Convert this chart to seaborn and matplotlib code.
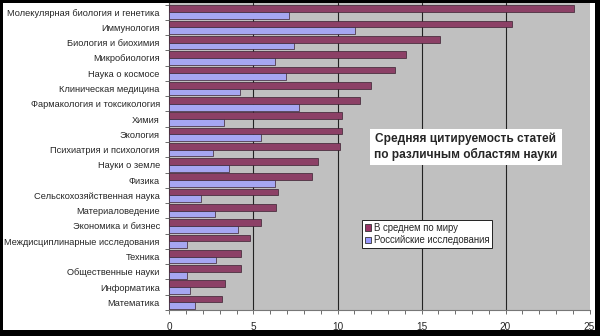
import matplotlib
matplotlib.use("Agg")
import matplotlib.pyplot as plt
from matplotlib.patches import Rectangle, Patch
import seaborn as sns
import pandas as pd
import numpy as np

categories = [
    "Молекулярная биология и генетика",
    "Иммунология",
    "Биология и биохимия",
    "Микробиология",
    "Наука о космосе",
    "Клиническая медицина",
    "Фармакология и токсикология",
    "Химия",
    "Экология",
    "Психиатрия и психология",
    "Науки о земле",
    "Физика",
    "Сельскохозяйственная наука",
    "Материаловедение",
    "Экономика и бизнес",
    "Междисциплинарные исследования",
    "Техника",
    "Общественные науки",
    "Информатика",
    "Математика",
]
world = [24.1, 20.4, 16.1, 14.1, 13.4, 12.0, 11.35, 10.26, 10.26, 10.16,
         8.81, 8.49, 6.43, 6.31, 5.46, 4.78, 4.25, 4.23, 3.33, 3.15]
russia = [7.14, 11.07, 7.40, 6.27, 6.93, 4.19, 7.68, 3.27, 5.42, 2.56,
          3.53, 6.27, 1.85, 2.68, 4.05, 1.07, 2.74, 1.07, 1.21, 1.51]
series = ["В среднем по миру", "Российские исследования"]
colors = ["#993366", "#9999FF"]
xticks = [0, 5, 10, 15, 20, 25]
title_text = "Средняя цитируемость статей\nпо различным областям науки"

df = pd.DataFrame({
    "cat": categories * 2,
    "val": world + russia,
    "ser": [series[0]] * len(categories) + [series[1]] * len(categories),
})

sns.set_style("white")
plt.rcParams["font.family"] = ["Liberation Sans", "DejaVu Sans"]

W, H = 600, 336
fig = plt.figure(figsize=(W / 100, H / 100), dpi=100)
fig.patch.set_facecolor("black")
fig.add_artist(Rectangle((3 / W, 1 - 330 / H), (595 - 3) / W, (330 - 3) / H,
                         transform=fig.transFigure, facecolor="white",
                         edgecolor="none", zorder=0))

ax = fig.add_axes([169.5 / W, 1 - 310 / H, 420 / W, (310 - 3) / H])
ax.set_facecolor("#C0C0C0")
sns.barplot(data=df, x="val", y="cat", hue="ser", hue_order=series,
            palette=colors, orient="h", width=0.88, ax=ax,
            edgecolor="#3a2030", linewidth=0.5, legend=False, zorder=3)

n = len(categories)
ax.set_xlim(0, 25)
ax.set_ylim(n - 0.5, -0.6)
ax.set_xticks(xticks)
ax.set_xticklabels([str(t) for t in xticks], fontsize=7.2)
ax.set_xticks(np.arange(0, 26, 1), minor=True)
ax.tick_params(axis="x", which="both", direction="out", length=3, width=0.6,
               color="#555555", bottom=True, pad=5.8)
ax.set_yticks(range(n))
ax.set_yticklabels(categories, fontsize=6.7)
ax.set_yticks(np.arange(-0.5, n, 1), minor=True)
ax.tick_params(axis="y", which="major", length=0, pad=7)
ax.tick_params(axis="y", which="minor", direction="out", length=3,
               width=0.6, color="#555555", left=True)
ax.set_xlabel("")
ax.set_ylabel("")
for t in xticks[1:-1]:
    ax.axvline(t, color="#222222", linewidth=0.8, zorder=1)
for s in ["top", "right"]:
    ax.spines[s].set_visible(False)
ax.spines["left"].set_color("#555555")
ax.spines["bottom"].set_color("#777777")
ax.spines["left"].set_linewidth(0.8)
ax.spines["bottom"].set_linewidth(0.8)

ax.text(466 / W, 1 - 147 / H, title_text, transform=fig.transFigure,
        ha="center", va="center", fontsize=8.6, fontweight="bold",
        linespacing=1.3, zorder=6,
        bbox=dict(boxstyle="square,pad=0.35", facecolor="white",
                  edgecolor="none"))

handles = [Patch(facecolor=c, edgecolor="#333333", linewidth=0.6) for c in colors]
leg = ax.legend(handles, series, loc="upper left",
                bbox_to_anchor=(362 / W, 1 - 220 / H),
                bbox_transform=fig.transFigure, fontsize=6.9,
                frameon=True, fancybox=False, framealpha=1,
                edgecolor="#222222", handlelength=0.65, handleheight=0.65,
                handletextpad=0.3, borderpad=0.3, labelspacing=0.25,
                borderaxespad=0)
leg.get_frame().set_linewidth(0.7)
leg.set_zorder(7)

fig.savefig("out.png", dpi=100, facecolor=fig.get_facecolor())
